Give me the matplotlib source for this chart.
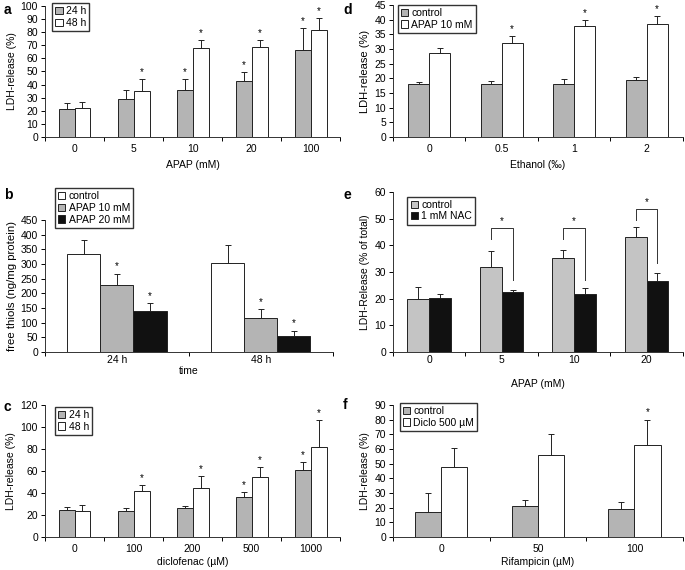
"""Six-panel bar figure: LDH release / free thiols under APAP, diclofenac etc."""

import matplotlib.pyplot as plt
import numpy as np

plt.rcParams["font.family"] = ["Liberation Sans", "DejaVu Sans"]
plt.rcParams["font.size"] = 7.5

GREY = "#b4b4b4"
WHITE = "#ffffff"
BLACK = "#111111"

# --- a: APAP ---
a_cats = ["0", "5", "10", "20", "100"]
a_24 = [21, 29, 35.5, 42.5, 66.5]
a_24_err = [5, 7, 8.5, 7, 16.5]
a_48 = [22, 35, 68, 69, 81.5]
a_48_err = [4.5, 9, 6, 5, 9.5]
a_24_star = [0, 0, 1, 1, 1]
a_48_star = [0, 1, 1, 1, 1]

# --- b: free thiols ---
b_cats = ["24 h", "48 h"]
b_ctrl = [333, 302]
b_ctrl_err = [50, 63]
b_ap10 = [227, 117]
b_ap10_err = [40, 28]
b_ap20 = [141, 55]
b_ap20_err = [27, 18]

# --- c: diclofenac ---
c_cats = ["0", "100", "200", "500", "1000"]
c_24 = [24.5, 23.5, 26, 36, 60.5]
c_24_err = [2.5, 2.5, 2.5, 4.5, 7.5]
c_48 = [23.5, 41.5, 44.5, 54.5, 82]
c_48_err = [6, 6, 10.5, 9, 24]
c_24_star = [0, 0, 0, 1, 1]
c_48_star = [0, 1, 1, 1, 1]

# --- d: ethanol ---
d_cats = ["0", "0.5", "1", "2"]
d_ctrl = [18, 18, 18, 19.3]
d_ctrl_err = [0.8, 1, 1.7, 1.3]
d_apap = [28.5, 32.2, 38, 38.5]
d_apap_err = [1.8, 2.2, 2, 2.8]
d_apap_star = [0, 1, 1, 1]

# --- e: NAC ---
e_cats = ["0", "5", "10", "20"]
e_ctrl = [20, 32, 35.3, 43]
e_ctrl_err = [4.2, 5.8, 3, 4]
e_nac = [20.3, 22.5, 21.8, 26.5]
e_nac_err = [1.5, 0.8, 2.2, 3]
e_br_idx = [1, 2, 3]
e_br_top = [46.5, 46.5, 53.5]
e_br_left = [42.5, 42.5, 49.4]
e_br_right = [27, 27, 33.5]

# --- f: rifampicin ---
f_cats = ["0", "50", "100"]
f_ctrl = [17, 21, 19]
f_ctrl_err = [13, 4, 5]
f_diclo = [48, 56, 63]
f_diclo_err = [12.5, 14, 17]
f_diclo_star = [0, 0, 1]


def style_axis(ax, cats, ymax, ystep, ylabel, xlabel, ylab_size=7.5):
    n = len(cats)
    ax.set_xlim(-0.5, n - 0.5)
    ax.set_ylim(0, ymax)
    ax.set_yticks(np.arange(0, ymax + ystep / 2, ystep))
    ax.set_xticks(np.arange(-0.5, n, 1.0))
    ax.set_xticklabels([])
    ax.set_xticks(np.arange(n), minor=True)
    ax.set_xticklabels(cats, minor=True)
    ax.tick_params(axis="x", which="minor", length=0, pad=5)
    ax.tick_params(axis="x", which="major", length=3, direction="out", width=0.7)
    ax.tick_params(axis="y", length=3, direction="out", width=0.7, pad=2)
    for s in ["top", "right"]:
        ax.spines[s].set_visible(False)
    for s in ["left", "bottom"]:
        ax.spines[s].set_linewidth(0.7)
        ax.spines[s].set_color("#333333")
    ax.set_ylabel(ylabel, labelpad=3, fontsize=ylab_size)
    ax.set_xlabel(xlabel, labelpad=4)


def bars(ax, x, vals, errs, color, width, label, stars=None):
    ax.bar(x, vals, width, color=color, edgecolor="#222222", linewidth=0.7,
           label=label, zorder=2)
    ax.errorbar(x, vals, yerr=[np.zeros(len(vals)), errs], fmt="none",
                ecolor="#222222", elinewidth=0.7, capsize=2, capthick=0.7, zorder=3)
    if stars is not None:
        for xi, v, e, s in zip(x, vals, errs, stars):
            if s:
                ax.annotate("*", (xi, v + e), xytext=(0, 1.5), textcoords="offset points",
                            ha="center", va="bottom", fontsize=7)


def legend(ax, anchor):
    ax.legend(loc="upper left", bbox_to_anchor=anchor, frameon=True, fancybox=False,
              edgecolor="#333333", framealpha=1, handlelength=0.7, handleheight=0.7,
              handletextpad=0.3, borderpad=0.3, labelspacing=0.15, fontsize=7.5,
              borderaxespad=0)


fig = plt.figure(figsize=(6.85, 5.7), dpi=100)

# a
ax = fig.add_axes([0.0657, 0.7596, 0.431, 0.23])
x = np.arange(len(a_cats))
w = 0.27
bars(ax, x - w / 2, a_24, a_24_err, GREY, w, "24 h", a_24_star)
bars(ax, x + w / 2, a_48, a_48_err, WHITE, w, "48 h", a_48_star)
style_axis(ax, a_cats, 100, 10, "LDH-release (%)", "APAP (mM)")
legend(ax, (0.024, 1.02))

# b
ax = fig.add_axes([0.0657, 0.3825, 0.42, 0.2316])
x = np.arange(len(b_cats))
w = 0.23
bars(ax, x - w, b_ctrl, b_ctrl_err, WHITE, w, "control")
bars(ax, x, b_ap10, b_ap10_err, GREY, w, "APAP 10 mM", [1, 1])
bars(ax, x + w, b_ap20, b_ap20_err, BLACK, w, "APAP 20 mM", [1, 1])
style_axis(ax, b_cats, 450, 50, "free thiols (ng/mg protein)", "time", ylab_size=8.2)
ax.tick_params(axis="x", which="minor", pad=2)
ax.xaxis.labelpad = 1
legend(ax, (0.035, 1.24))

# c
ax = fig.add_axes([0.0657, 0.0579, 0.431, 0.2316])
x = np.arange(len(c_cats))
w = 0.27
bars(ax, x - w / 2, c_24, c_24_err, GREY, w, "24 h", c_24_star)
bars(ax, x + w / 2, c_48, c_48_err, WHITE, w, "48 h", c_48_star)
style_axis(ax, c_cats, 120, 20, "LDH-release (%)", "diclofenac (\u00b5M)")
ax.xaxis.labelpad = 2
legend(ax, (0.034, 0.985))

# d
ax = fig.add_axes([0.5737, 0.7596, 0.423, 0.2316])
x = np.arange(len(d_cats))
w = 0.29
bars(ax, x - w / 2, d_ctrl, d_ctrl_err, GREY, w, "control")
bars(ax, x + w / 2, d_apap, d_apap_err, WHITE, w, "APAP 10 mM", d_apap_star)
style_axis(ax, d_cats, 45, 5, "LDH-release (%)", "Ethanol (\u2030)", ylab_size=8)
legend(ax, (0.017, 1.0))

# e
ax = fig.add_axes([0.5737, 0.3825, 0.423, 0.2807])
x = np.arange(len(e_cats))
w = 0.3
bars(ax, x - w / 2, e_ctrl, e_ctrl_err, "#c4c4c4", w, "control")
bars(ax, x + w / 2, e_nac, e_nac_err, BLACK, w, "1 mM NAC")
for i, top, lo_l, lo_r in zip(e_br_idx, e_br_top, e_br_left, e_br_right):
    ax.plot([i - w / 2, i - w / 2, i + w / 2, i + w / 2], [lo_l, top, top, lo_r],
            color="#333333", lw=0.7, zorder=4)
    ax.annotate("*", (i, top), xytext=(0, 1.5), textcoords="offset points",
                ha="center", va="bottom", fontsize=7)
style_axis(ax, e_cats, 60, 10, "LDH-Release (% of total)", "APAP (mM)")
ax.tick_params(axis="x", which="minor", pad=2)
ax.xaxis.labelpad = 10
legend(ax, (0.05, 0.97))

# f
ax = fig.add_axes([0.5737, 0.0579, 0.423, 0.2316])
x = np.arange(len(f_cats))
w = 0.27
bars(ax, x - w / 2, f_ctrl, f_ctrl_err, GREY, w, "control")
bars(ax, x + w / 2, f_diclo, f_diclo_err, WHITE, w, "Diclo 500 \u00b5M", f_diclo_star)
style_axis(ax, f_cats, 90, 10, "LDH-release (%)", "Rifampicin (\u00b5M)")
ax.xaxis.labelpad = 2
legend(ax, (0.024, 1.015))

# panel letters
for lab, (px, py) in {"a": (4, 10), "b": (4, 195), "c": (4, 407),
                      "d": (343, 10), "e": (343, 195), "f": (343, 405)}.items():
    fig.text(px / 685, 1 - py / 570, lab, fontsize=10, fontweight="bold",
             ha="left", va="center")

fig.savefig("out.png", dpi=100)
